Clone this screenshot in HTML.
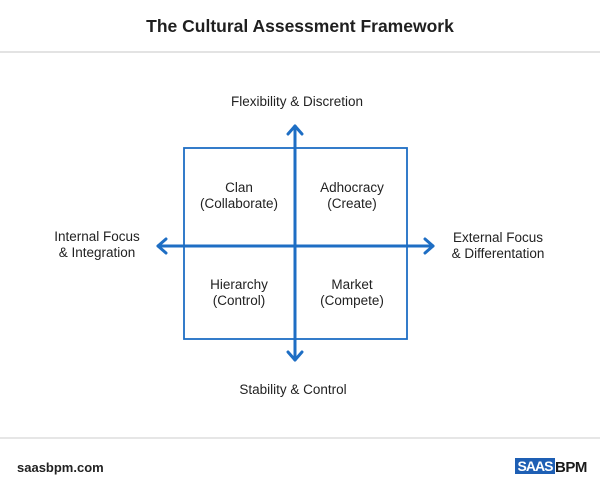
<!DOCTYPE html>
<html><head><style>
body{margin:0;width:600px;height:498px;background:#fff;overflow:hidden;font-family:"Liberation Sans",sans-serif;}
</style></head><body>
<svg width="600" height="498" viewBox="0 0 600 498" xmlns="http://www.w3.org/2000/svg" font-family="Liberation Sans, sans-serif">
<rect width="600" height="498" fill="#fff"/>
<text x="300" y="32" text-anchor="middle" font-size="17.5" font-weight="bold" fill="#1f1f1f">The Cultural Assessment Framework</text>
<rect x="0" y="51" width="600" height="2" fill="#e3e3e3"/>
<rect x="0" y="437" width="600" height="2" fill="#e6e6e6"/>
<text x="297" y="106" text-anchor="middle" font-size="13.5" fill="#222">Flexibility &amp; Discretion</text>
<text x="293" y="394" text-anchor="middle" font-size="13.5" fill="#222">Stability &amp; Control</text>
<text x="97" y="241" text-anchor="middle" font-size="13.5" fill="#222">Internal Focus</text>
<text x="97" y="257" text-anchor="middle" font-size="13.5" fill="#222">&amp; Integration</text>
<text x="498" y="242" text-anchor="middle" font-size="13.5" fill="#222">External Focus</text>
<text x="498" y="258" text-anchor="middle" font-size="13.5" fill="#222">&amp; Differentation</text>
<rect x="184" y="148" width="223" height="191" fill="none" stroke="#1e6ec4" stroke-width="1.8"/>
<g stroke="#1e6ec4" stroke-width="3" fill="none" stroke-linecap="round" stroke-linejoin="round">
<line x1="295" y1="126" x2="295" y2="360"/>
<polyline points="288,134 295,126 302,134"/>
<polyline points="288,352 295,360 302,352"/>
<line x1="158" y1="246" x2="433" y2="246"/>
<polyline points="166,239 158,246 166,253"/>
<polyline points="425,239 433,246 425,253"/>
</g>
<g font-size="13.5" fill="#222" text-anchor="middle">
<text x="239" y="192">Clan</text>
<text x="239" y="208">(Collaborate)</text>
<text x="352" y="192">Adhocracy</text>
<text x="352" y="208">(Create)</text>
<text x="239" y="289">Hierarchy</text>
<text x="239" y="305">(Control)</text>
<text x="352" y="289">Market</text>
<text x="352" y="305">(Compete)</text>
</g>
<text x="17" y="472" font-size="13" font-weight="bold" fill="#222">saasbpm.com</text>
<rect x="515" y="458" width="40" height="16" fill="#1e5fb4"/>
<text x="535" y="471" text-anchor="middle" font-size="14" font-weight="bold" fill="#fff" letter-spacing="-1">SAAS</text>
<text x="555" y="472" font-size="15" font-weight="bold" fill="#1a1a1a" letter-spacing="-0.5">BPM</text>
</svg>
</body></html>
